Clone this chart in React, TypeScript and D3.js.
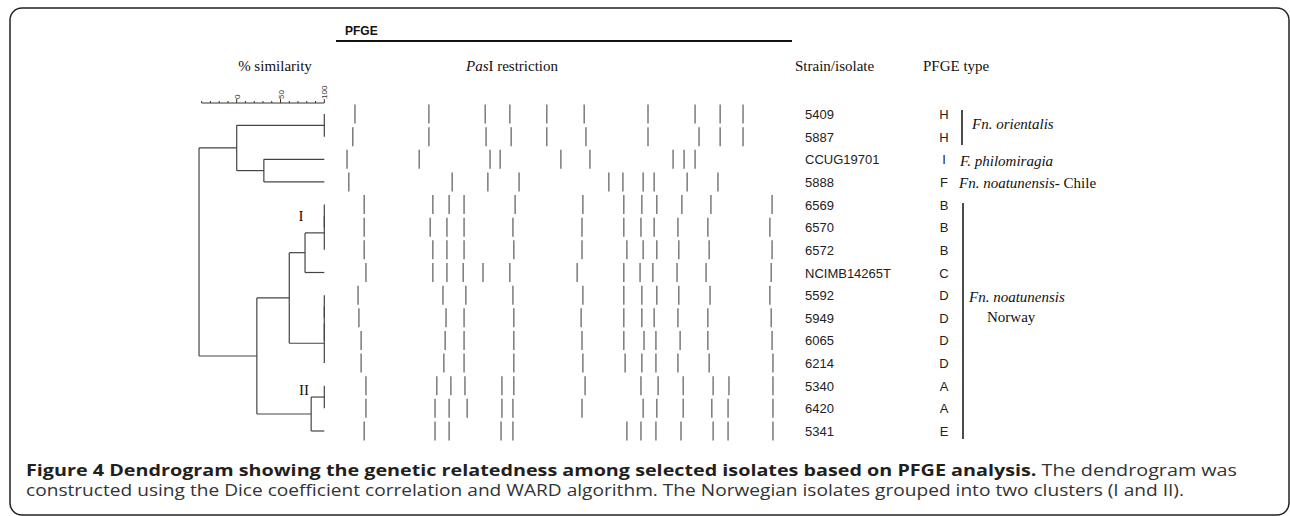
import React from "react";
import * as d3 from "d3";

// ---------- data ----------
const strains = ["5409","5887","CCUG19701","5888","6569","6570","6572","NCIMB14265T","5592","5949","6065","6214","5340","6420","5341"];
const pfgeTypes = ["H","H","I","F","B","B","B","C","D","D","D","D","A","A","E"];

// band migration positions (0 = lane start, 100 = lane end)
const bands: number[][] = [
  [3.4,20.2,33.0,38.6,47.0,55.5,70.0,80.7,86.4,91.6],
  [2.9,20.2,33.2,38.9,47.0,55.9,70.0,81.6,86.4,91.6],
  [1.6,18.0,34.1,36.4,50.2,56.8,75.7,78.2,80.7],
  [2.0,25.5,33.6,40.7,61.1,64.3,68.9,71.4,78.9,85.9],
  [5.5,21.1,24.8,28.2,39.8,55.2,64.5,68.6,72.0,77.7,84.3,98.2],
  [5.5,20.5,24.3,28.2,39.3,55.0,64.5,68.4,71.4,76.8,83.6,97.7],
  [5.5,21.1,24.3,28.2,39.5,55.0,65.2,68.9,72.0,77.0,83.9,98.2],
  [5.9,21.1,24.3,28.0,32.5,38.6,53.9,64.5,68.2,71.1,76.6,83.2,98.0],
  [4.1,23.4,28.6,39.3,55.2,64.5,68.6,72.0,77.0,84.1,97.7],
  [4.3,24.1,28.2,39.5,54.8,64.5,68.6,71.4,76.8,83.6,98.0],
  [4.8,23.9,28.2,39.5,55.0,64.5,69.1,71.8,77.3,83.6,98.2],
  [4.8,23.6,28.2,39.5,55.2,64.8,68.6,71.8,76.8,83.9,98.4],
  [5.9,22.0,25.2,28.4,36.8,39.5,55.7,68.4,72.3,78.0,84.8,88.4,98.4],
  [5.9,21.6,24.8,28.9,36.8,39.3,55.0,68.9,72.0,78.0,84.5,88.2,98.4],
  [5.5,21.6,24.8,36.6,39.3,65.2,68.4,71.8,77.5,84.8,88.2,98.4],
];

// dendrogram (similarity %)
type TNode = { name?: string; sim?: number; children?: TNode[] };
const leaf = (name: string): TNode => ({ name });
const tree: TNode = {
  sim: -43,
  children: [
    { sim: 0, children: [
      { sim: 100, children: [leaf("5409"), leaf("5887")] },
      { sim: 31, children: [leaf("CCUG19701"), leaf("5888")] },
    ]},
    { sim: 23, children: [
      { sim: 60, children: [
        { sim: 78, children: [
          { sim: 100, children: [{ sim: 100, children: [leaf("6569"), leaf("6570")] }, leaf("6572")] },
          leaf("NCIMB14265T"),
        ]},
        { sim: 100, children: [
          { sim: 100, children: [{ sim: 100, children: [leaf("5592"), leaf("5949")] }, leaf("6065")] },
          leaf("6214"),
        ]},
      ]},
      { sim: 85, children: [
        { sim: 100, children: [leaf("5340"), leaf("6420")] },
        leaf("5341"),
      ]},
    ]},
  ],
};

const simTicks = [-40,-30,-20,-10,0,10,20,30,40,50,60,70,80,90,100];
const simLabels = [0,50,100];

export default function App() {
  const W = 1290, H = 516;
  const y = d3.scalePoint<string>().domain(strains).range([114, 431]);
  const xs = d3.scaleLinear().domain([0, 100]).range([236.7, 324.3]);
  const xb = d3.scaleLinear().domain([0, 100]).range([340, 780]);

  const lines: { x1: number; y1: number; x2: number; y2: number }[] = [];
  const layout = (n: TNode): { y: number; sim: number } => {
    if (!n.children) return { y: y(n.name!)!, sim: 100 };
    const c = n.children.map(layout);
    const sim = n.sim!;
    const x = xs(sim);
    lines.push({ x1: x, y1: c[0].y, x2: x, y2: c[c.length - 1].y });
    c.forEach((ch) => {
      if (ch.sim !== sim) lines.push({ x1: x, y1: ch.y, x2: xs(ch.sim), y2: ch.y });
    });
    return { y: d3.mean(c, (d) => d.y)!, sim };
  };
  layout(tree);

  const serif = "'Liberation Serif', 'Times New Roman', serif";
  const sans = "'Liberation Sans', Arial, sans-serif";
  const cap = "'Open Sans', sans-serif";
  const axisY = 103;

  return (
    <svg width={W} height={H} style={{ position: "absolute", left: 0, top: 0, background: "#fff" }}>
      <rect x={10} y={8} width={1279} height={507} rx={12} fill="none" stroke="#222" strokeWidth={1.5} />

      {/* header */}
      <text x={345} y={35} fontFamily={sans} fontWeight="bold" fontSize={12} fill="#111">PFGE</text>
      <line x1={336} x2={792} y1={41} y2={41} stroke="#111" strokeWidth={2} />
      <text x={275} y={71} textAnchor="middle" fontFamily={serif} fontSize={15} fill="#111">% similarity</text>
      <text x={512} y={71} textAnchor="middle" fontFamily={serif} fontSize={15} fill="#111">
        <tspan fontStyle="italic">Pas</tspan>I restriction
      </text>
      <text x={795} y={71} fontFamily={serif} fontSize={15} fill="#111">Strain/isolate</text>
      <text x={923} y={71} fontFamily={serif} fontSize={15} fill="#111">PFGE type</text>

      {/* similarity scale */}
      <line x1={xs(-40)} x2={xs(100)} y1={axisY} y2={axisY} stroke="#333" strokeWidth={1} />
      {simTicks.map((t) => (
        <line key={t} x1={xs(t)} x2={xs(t)} y1={axisY} y2={axisY - (simLabels.includes(t) ? 4 : 2)} stroke="#333" strokeWidth={1} />
      ))}
      {simLabels.map((t) => (
        <text key={t} transform={`translate(${xs(t) + 3},${axisY - 4}) rotate(-90)`} fontFamily={sans} fontSize={8} fill="#333">{t}</text>
      ))}

      {/* dendrogram */}
      {lines.map((l, i) => (
        <line key={i} {...l} stroke="#444" strokeWidth={1.2} />
      ))}
      <text x={301} y={221} textAnchor="middle" fontFamily={serif} fontSize={15} fill="#111">I</text>
      <text x={304} y={395} textAnchor="middle" fontFamily={serif} fontSize={15} fill="#111">II</text>

      {/* gel bands */}
      {strains.map((s, i) =>
        bands[i].map((b, j) => (
          <line key={s + j} x1={xb(b)} x2={xb(b)} y1={y(s)! - 9.5} y2={y(s)! + 9.5} stroke="#7a7a7a" strokeWidth={1.5} />
        ))
      )}

      {/* strain labels and types */}
      {strains.map((s, i) => (
        <g key={s}>
          <text x={805} y={y(s)! + 5} fontFamily={sans} fontSize={13} fill="#222">{s}</text>
          <text x={944} y={y(s)! + 5} textAnchor="middle" fontFamily={sans} fontSize={13} fill="#222">{pfgeTypes[i]}</text>
        </g>
      ))}

      {/* species annotations */}
      <line x1={962} x2={962} y1={110} y2={145} stroke="#111" strokeWidth={1.5} />
      <text x={972} y={129} fontFamily={serif} fontStyle="italic" fontSize={15} fill="#111">Fn. orientalis</text>
      <text x={960} y={166} fontFamily={serif} fontStyle="italic" fontSize={15} fill="#111">F. philomiragia</text>
      <text x={959} y={188} fontFamily={serif} fontSize={15} fill="#111">
        <tspan fontStyle="italic">Fn. noatunensis</tspan>- Chile
      </text>
      <line x1={963} x2={963} y1={203} y2={439} stroke="#111" strokeWidth={1.5} />
      <text x={969} y={302} fontFamily={serif} fontStyle="italic" fontSize={15} fill="#111">Fn. noatunensis</text>
      <text x={987} y={322} fontFamily={serif} fontSize={15} fill="#111">Norway</text>

      {/* caption */}
      <text x={26} y={476} fontFamily={cap} fontSize={15.5} fill="#333" textLength={1211} lengthAdjust="spacingAndGlyphs">
        <tspan fontWeight="bold" fill="#231f20">Figure 4 Dendrogram showing the genetic relatedness among selected isolates based on PFGE analysis.</tspan>
        <tspan> The dendrogram was</tspan>
      </text>
      <text x={26} y={496} fontFamily={cap} fontSize={15.5} fill="#333" textLength={1158} lengthAdjust="spacingAndGlyphs">
        constructed using the Dice coefficient correlation and WARD algorithm. The Norwegian isolates grouped into two clusters (I and II).
      </text>
    </svg>
  );
}
